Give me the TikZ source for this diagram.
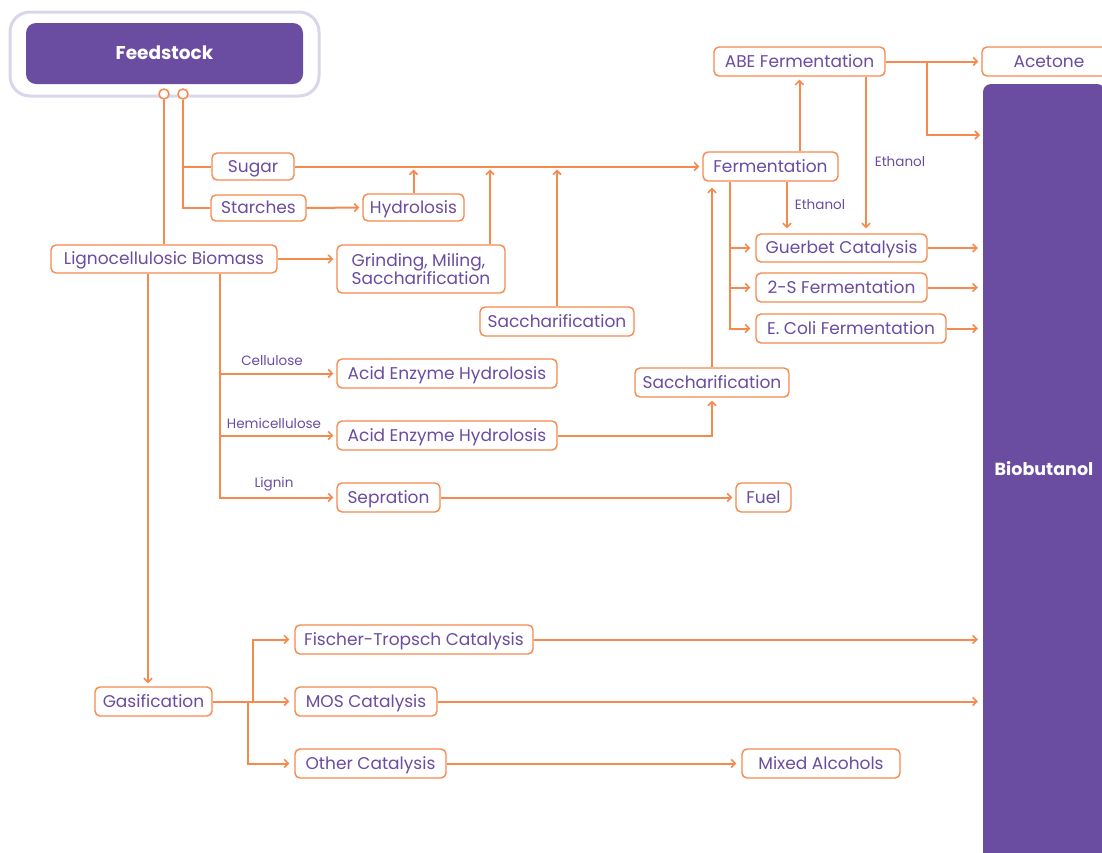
\documentclass[tikz,border=0pt]{standalone}
\usepackage{fontspec}
\setmainfont{Poppins}
\usetikzlibrary{arrows.meta,calc}
\definecolor{pur}{HTML}{6A4CA0}
\definecolor{org}{HTML}{F5894E}
\definecolor{lav}{HTML}{DAD5EB}
\begin{document}
\begin{tikzpicture}[x=1pt,y=-1pt,
  box/.style={draw=org,line width=1.4pt,rounded corners=5pt,fill=white,inner sep=0pt,
    minimum height=29pt,text=pur,font=\fontsize{17}{20}\selectfont,text height=12pt,text depth=1pt},
  lbl/.style={text=pur,inner sep=0pt,font=\fontsize{13.5}{16}\selectfont},
  conn/.style={draw=org,line width=2pt},
  arr/.style={conn,-{Straight Barb[length=4pt,width=8pt,line width=1.6pt]},shorten >=3pt}]
\useasboundingbox (0,0) rectangle (1102,852);
% feedstock
\draw[lav,line width=3pt,rounded corners=20pt] (10,12) rectangle (319,96);
\node[fill=pur,rounded corners=10pt,minimum width=277pt,minimum height=61pt,inner sep=0pt,
  text=white,font=\fontsize{18.5}{20}\selectfont\bfseries,text height=13pt,text depth=1pt] (feed) at (164.5,53.5) {Feedstock};
% Biobutanol
\node[fill=pur,rounded corners=8pt,minimum width=122pt,minimum height=790pt,inner sep=0pt] (bio) at (1044,479) {};
\node[text=white,inner sep=0pt,font=\fontsize{17.5}{20}\selectfont\bfseries] (biot) at (1044,469) {Biobutanol};
% boxes
\node[box,minimum width=82pt,minimum height=27pt] (sugar) at (253,166.5) {Sugar};
\node[box,minimum width=95pt,minimum height=26pt] (starch) at (258.5,208) {Starches};
\node[box,minimum width=101pt,minimum height=27pt] (hydro) at (413.5,207.5) {Hydrolosis};
\node[box,minimum width=226pt,minimum height=28pt] (ligno) at (164,259) {Lignocellulosic Biomass};
\node[box,minimum width=168pt,minimum height=48pt,align=left,text height=,text depth=,
  font=\fontsize{17}{17}\selectfont] (grind) at (421,269) {Grinding, Miling,\\Saccharification};
\node[box,minimum width=154pt] (sacc1) at (557,321.5) {Saccharification};
\node[box,minimum width=135pt] (ferm) at (770.5,166.5) {Fermentation};
\node[box,minimum width=171pt] (abe) at (799.5,61.5) {ABE Fermentation};
\node[box,minimum width=134pt] (acetone) at (1049,61.5) {Acetone};
\node[box,minimum width=171pt,minimum height=28pt] (guerbet) at (841.5,248) {Guerbet Catalysis};
\node[box,minimum width=171pt] (twos) at (841.5,287.5) {2-S Fermentation};
\node[box,minimum width=190pt] (ecoli) at (851,328.5) {E. Coli Fermentation};
\node[box,minimum width=154pt] (sacc2) at (712,382.5) {Saccharification};
\node[box,minimum width=220pt] (aeh1) at (447,373.5) {Acid Enzyme Hydrolosis};
\node[box,minimum width=220pt] (aeh2) at (447,435.5) {Acid Enzyme Hydrolosis};
\node[box,minimum width=103pt] (sep) at (388.5,497.5) {Sepration};
\node[box,minimum width=55pt] (fuel) at (763.5,497.5) {Fuel};
\node[box,minimum width=117pt] (gas) at (153.5,701.5) {Gasification};
\node[box,minimum width=238pt] (ft) at (414,639.5) {Fischer-Tropsch Catalysis};
\node[box,minimum width=142pt] (mos) at (366,701.5) {MOS Catalysis};
\node[box,minimum width=151pt] (other) at (370.5,763.5) {Other Catalysis};
\node[box,minimum width=158pt] (mixed) at (821,763.5) {Mixed Alcohols};
% small labels
\node[lbl] (lcell) at (272,361) {Cellulose};
\node[lbl] (lhemi) at (274,423) {Hemicellulose};
\node[lbl] (llig) at (274,484) {Lignin};
\node[lbl] (leth1) at (900,162) {Ethanol};
\node[lbl] (leth2) at (820,205) {Ethanol};
% feedstock connectors
\node[draw=org,line width=1.5pt,fill=white,circle,minimum size=10pt,inner sep=0pt] (c1) at (164,94) {};
\node[draw=org,line width=1.5pt,fill=white,circle,minimum size=10pt,inner sep=0pt] (c2) at (183,94) {};
\draw[conn] (c1.south) -- (c1.south |- ligno.north);
\draw[conn] (c2.south) |- (starch.west);
\draw[conn] (c2.south |- sugar.west) -- (sugar.west);
% sugar line
\draw[arr] (starch.east) -- (hydro.west);
\draw[arr] (sugar.east) -- (ferm.west);
\draw[arr] (hydro.north) -- (hydro.north |- sugar.east);
\draw[arr] ([xshift=69pt]grind.north) -- ([xshift=69pt]grind.north |- sugar.east);
\draw[arr] (sacc1.north) -- (sacc1.north |- sugar.east);
% lignocellulosic
\draw[arr] (ligno.east) -- (ligno.east -| grind.west);
\draw[arr] ([xshift=-16pt]ligno.south) -- ([xshift=-16pt]ligno.south |- gas.north);
\draw[arr] ([xshift=56pt]ligno.south) |- (sep.west);
\draw[arr] ([xshift=56pt]ligno.south |- aeh1.west) -- (aeh1.west);
\draw[arr] ([xshift=56pt]ligno.south |- aeh2.west) -- (aeh2.west);
\draw[arr] (aeh2.east) -| (sacc2.south);
\draw[arr,shorten >=6pt] (sacc2.north) -- (sacc2.north |- ferm.south);
\draw[arr] (sep.east) -- (fuel.west);
% fermentation
\draw[arr] ([xshift=29pt]ferm.north) -- ([xshift=29pt]ferm.north |- abe.south);
\draw[arr] (abe.east) -- (acetone.west);
\coordinate (jab) at (927,61.5);
\coordinate (bioA) at (983,135);
\draw[arr] (jab) |- (bioA);
\draw[arr,shorten >=5pt] ([xshift=66.5pt]abe.south) -- ([xshift=66.5pt]abe.south |- guerbet.north);
\draw[arr,shorten >=5pt] ([xshift=16.5pt]ferm.south) -- ([xshift=16.5pt]ferm.south |- guerbet.north);
\draw[arr,shorten >=5pt] ([xshift=-40.5pt]ferm.south) |- (ecoli.west);
\draw[arr,shorten >=5pt] ([xshift=-40.5pt]ferm.south |- guerbet.west) -- (guerbet.west);
\draw[arr,shorten >=5pt] ([xshift=-40.5pt]ferm.south |- twos.west) -- (twos.west);
\draw[arr,shorten >=5pt] (guerbet.east) -- (guerbet.east -| bio.west);
\draw[arr,shorten >=5pt] (twos.east) -- (twos.east -| bio.west);
\draw[arr,shorten >=5pt] (ecoli.east) -- (ecoli.east -| bio.west);
% gasification
\coordinate (g1) at (253,701.5);
\coordinate (g2) at (248,701.5);
\draw[arr,shorten >=5pt] (gas.east) -- (mos.west);
\draw[arr,shorten >=5pt] (g1) |- (ft.west);
\draw[arr,shorten >=5pt] (g2) |- (other.west);
\draw[arr,shorten >=5pt] (ft.east) -- (ft.east -| bio.west);
\draw[arr,shorten >=5pt] (mos.east) -- (mos.east -| bio.west);
\draw[arr,shorten >=5pt] (other.east) -- (mixed.west);
\end{tikzpicture}
\end{document}
